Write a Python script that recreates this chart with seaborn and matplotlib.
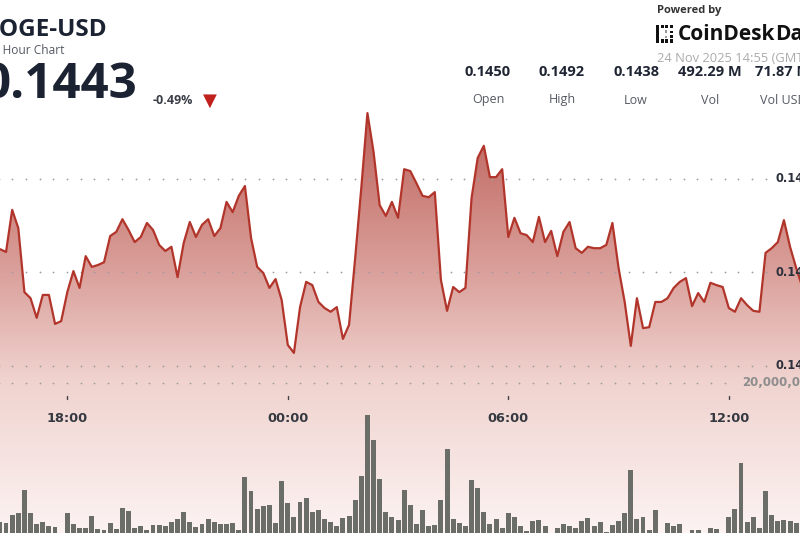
import matplotlib
matplotlib.use("Agg")
import matplotlib.pyplot as plt
import numpy as np
import pandas as pd
import seaborn as sns
from matplotlib.colors import LinearSegmentedColormap
from matplotlib.patches import Polygon, Rectangle

# --- Data ---
times = pd.date_range("2025-11-23 16:10", periods=132, freq="10min")
price = [
    0.14650, 0.14644, 0.14734, 0.14695, 0.14558, 0.14545, 0.14503, 0.14552, 0.14552, 0.14490,
    0.14496, 0.14558, 0.14603, 0.14567, 0.14635, 0.14612, 0.14616, 0.14622, 0.14678, 0.14687,
    0.14714, 0.14691, 0.14665, 0.14676, 0.14706, 0.14691, 0.14659, 0.14646, 0.14655, 0.14590,
    0.14663, 0.14708, 0.14676, 0.14702, 0.14714, 0.14678, 0.14695, 0.14751, 0.14729, 0.14764,
    0.14785, 0.14674, 0.14612, 0.14599, 0.14567, 0.14586, 0.14541, 0.14445, 0.14428, 0.14526,
    0.14580, 0.14573, 0.14537, 0.14524, 0.14516, 0.14526, 0.14458, 0.14488, 0.14631, 0.14781,
    0.14941, 0.14858, 0.14744, 0.14721, 0.14751, 0.14717, 0.14821, 0.14817, 0.14791, 0.14764,
    0.14761, 0.14772, 0.14584, 0.14518, 0.14569, 0.14558, 0.14567, 0.14759, 0.14845, 0.14871,
    0.14804, 0.14804, 0.14821, 0.14676, 0.14717, 0.14684, 0.14680, 0.14665, 0.14719, 0.14665,
    0.14689, 0.14635, 0.14687, 0.14708, 0.14652, 0.14642, 0.14655, 0.14652, 0.14652, 0.14659,
    0.14706, 0.14610, 0.14537, 0.14443, 0.14545, 0.14481, 0.14483, 0.14537, 0.14537, 0.14545,
    0.14567, 0.14580, 0.14588, 0.14528, 0.14556, 0.14537, 0.14578, 0.14573, 0.14569, 0.14524,
    0.14516, 0.14545, 0.14530, 0.14518, 0.14516, 0.14642, 0.14652, 0.14665, 0.14712, 0.14655,
    0.14610, 0.14569,
]
volume_m = [
    2.9, 2.7, 3.7, 4.0, 6.8, 4.0, 2.6, 2.8, 2.3, 2.2,
    1.5, 4.0, 2.6, 2.1, 2.1, 3.6, 2.0, 1.9, 2.7, 2.0,
    4.6, 4.2, 2.1, 2.3, 1.8, 2.5, 2.5, 2.3, 2.8, 3.2,
    4.1, 2.8, 2.2, 2.6, 3.2, 2.8, 2.6, 2.6, 2.7, 1.8,
    8.4, 6.7, 4.5, 4.8, 5.0, 2.7, 7.9, 5.2, 3.5, 5.3,
    5.8, 4.1, 4.3, 3.2, 2.8, 2.3, 3.3, 3.6, 5.5, 8.5,
    16.0, 13.0, 8.1, 4.1, 3.5, 3.1, 6.8, 4.9, 2.6, 4.3,
    2.3, 2.5, 5.6, 11.8, 3.2, 2.7, 2.3, 8.0, 7.0, 4.1,
    2.6, 3.2, 2.1, 3.9, 3.5, 2.3, 1.7, 3.0, 3.1, 2.3,
    1.5, 2.1, 2.6, 2.3, 2.1, 3.0, 3.3, 2.3, 2.8, 1.6,
    2.5, 3.0, 3.9, 9.3, 3.2, 3.5, 1.8, 4.3, 1.5, 2.7,
    2.3, 2.6, 1.4, 1.9, 1.8, 1.4, 2.1, 2.0, 1.5, 3.4,
    4.5, 10.1, 2.8, 3.5, 2.1, 6.7, 3.7, 3.0, 3.1, 3.0,
    2.7, 3.4,
]
price_ticks = [0.1480, 0.1460, 0.1440]
vol_tick = 20  # millions
time_ticks = ["18:00", "00:00", "06:00", "12:00"]
stat_values = ["0.1450", "0.1492", "0.1438", "492.29 M", "71.87 M"]
stat_labels = ["Open", "High", "Low", "Vol", "Vol USD"]

sns.set_theme(style="white")
plt.rcParams['font.family'] = ['Open Sans', 'DejaVu Sans']

W, H = 800, 533
fig = plt.figure(figsize=(W / 100, H / 100), dpi=100)
fig.patch.set_facecolor("white")

# pixel <-> data helpers (layout only)
PX_H, X18 = 36.75, 67.3
def hx(px):
    return (px - X18) / PX_H
def py_price(py):
    return 0.1480 - (py - 179) * (0.002 / 93.5)
def py_vol(py):
    return (545 - py) / 8.1
def fx(px):
    return px / W
def fy(py):
    return 1 - py / H

hours = ((times - pd.Timestamp("2025-11-23 18:00")) / pd.Timedelta(hours=1)).to_numpy()
df = pd.DataFrame({"hours": hours, "price": price, "volume": volume_m})

# --- price layer ---
ax = fig.add_axes([0, 0, 1, 1])
ax.set_xlim(hx(0), hx(W))
ax.set_ylim(py_price(H), py_price(0))
ax.axis("off")

cmap = LinearSegmentedColormap.from_list(
    "fade", [(0, "#bb5e57"), (0.39, "#da9f9a"), (0.65, "#f0d3cf"), (1, "#fcf3f2")])
grad = np.linspace(0, 1, 256).reshape(-1, 1)
im = ax.imshow(grad, extent=[hx(0), hx(W), py_price(H), py_price(100)],
               aspect="auto", cmap=cmap, origin="upper", zorder=1)
verts = [(hours[0], py_price(H))] + list(zip(hours, price)) + [(hours[-1], py_price(H))]
poly = Polygon(verts, closed=True, facecolor="none", edgecolor="none", transform=ax.transData)
ax.add_patch(poly)
im.set_clip_path(poly)

# dotted grid lines
dots_x = hx(np.arange(-1.4, 766, 13.7))
for v in price_ticks:
    ax.scatter(dots_x, np.full_like(dots_x, v), s=1.6, color="#9c9c9c", linewidths=0, zorder=2)
    ax.text(hx(775), v, f"{v:.4f}", ha="left", va="center", fontsize=8.3,
            fontweight="bold", color="#2b303b", family="DejaVu Sans", zorder=5)

sns.lineplot(data=df, x="hours", y="price", ax=ax, color="#b2352b", linewidth=1.6, zorder=4)
ax.set_xlim(hx(0), hx(W))
ax.set_ylim(py_price(H), py_price(0))
ax.axis("off")

# --- volume layer ---
axv = fig.add_axes([0, 0, 1, 1], zorder=2)
axv.patch.set_alpha(0)
sns.barplot(data=df, x="hours", y="volume", native_scale=True, ax=axv, color="#6b6d68",
            saturation=1, errorbar=None, width=0.8, linewidth=0)
axv.set_xlim(hx(0), hx(W))
axv.set_ylim(py_vol(H), py_vol(0))
axv.axis("off")

vdots = hx(np.arange(-1.4, 733, 13.7))
axv.scatter(vdots, np.full_like(vdots, vol_tick), s=1.6, color="#9c9c9c", linewidths=0)
axv.text(hx(742), vol_tick, f"{vol_tick * 1_000_000:,}", ha="left", va="center", fontsize=8.5,
         fontweight="bold", color="#8d8d8d", family="DejaVu Sans")

# time ticks
for lab in time_ticks:
    h = {"18:00": 0, "00:00": 6, "06:00": 12, "12:00": 18}[lab]
    axv.plot([h, h], [py_vol(396), py_vol(398.5)], color="#444444", lw=1.0)
    axv.text(h, py_vol(418), lab, ha="center", va="center", fontsize=9.3,
             fontweight="bold", color="#343840", family="DejaVu Sans")

# --- header ---
dark = "#1b2232"
fig.text(fx(108), fy(30), "DOGE-USD", ha="right", va="center", fontsize=17.5,
         fontweight="bold", color=dark)
fig.text(fx(64), fy(51), "24 Hour Chart", ha="right", va="center", fontsize=8.6, color="#555a63")
fig.text(fx(137), fy(86), "0.1443", ha="right", va="center", fontsize=35.5,
         fontweight="bold", color=dark)
fig.text(fx(153), fy(100), "-0.49%", ha="left", va="center", fontsize=9,
         fontweight="bold", color="#3a3f48")
fig.text(fx(210), fy(100.5), "\u25bc", ha="center", va="center", fontsize=13,
         color="#c0211c", family="DejaVu Sans")

fig.text(fx(657), fy(10), "Powered by", ha="left", va="center", fontsize=8,
         fontweight="bold", color="#333333")
# CoinDesk Data mark (rough)
mark = [(656, 25, 3.2, 17.5, "#111111"),
        (660.5, 25, 3, 3, "#111111"), (665, 25, 3, 3, "#111111"), (669.5, 25, 3, 3, "#111111"),
        (660.5, 39.5, 3, 3, "#111111"), (665, 39.5, 3, 3, "#111111"), (669.5, 39.5, 3, 3, "#111111"),
        (664.5, 30.5, 2.6, 2.6, "#9a9a9a"), (664.5, 35.5, 2.6, 2.6, "#9a9a9a"),
        (670, 30.5, 2.8, 2.8, "#111111"), (670, 35.5, 2.8, 2.8, "#111111")]
for (x0, y0, w, h, c) in mark:
    fig.patches.append(Rectangle((fx(x0), fy(y0 + h)), w / W, h / H, transform=fig.transFigure,
                                 facecolor=c, edgecolor="none"))
fig.text(fx(678), fy(35), "CoinDesk", ha="left", va="center", fontsize=15,
         fontweight="bold", color="#111111")
fig.text(fx(775), fy(35), "Data", ha="left", va="center", fontsize=15,
         fontweight="bold", color="#111111")
fig.text(fx(657), fy(59), "24 Nov 2025 14:55 (GMT)", ha="left", va="center", fontsize=9.3,
         color="#ababab")

for cx, val, lab in zip([488, 562, 636, 710, 783], stat_values, stat_labels):
    fig.text(fx(cx), fy(72), val, ha="center", va="center", fontsize=10.5,
             fontweight="bold", color="#1f2533")
    fig.text(fx(cx), fy(100), lab, ha="center", va="center", fontsize=9, color="#555a63")

fig.savefig("out.png", dpi=100)
